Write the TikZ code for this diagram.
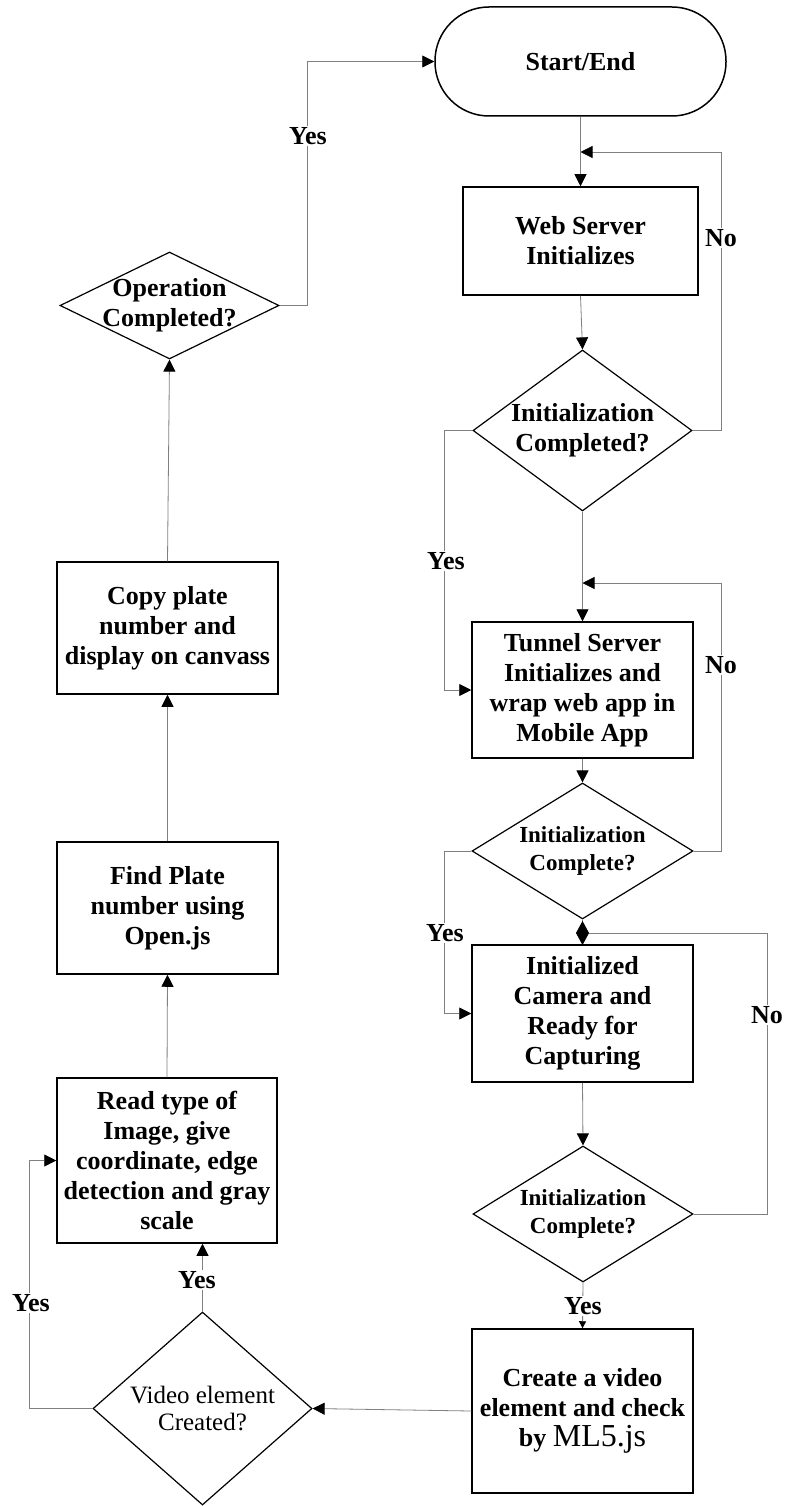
\documentclass[tikz,border=0pt]{standalone}
\usepackage{fontspec}
\setmainfont{Liberation Serif}
\usetikzlibrary{arrows.meta,shapes.geometric}
\begin{document}
\begin{tikzpicture}[x=1pt,y=-1pt,
  conn/.style={draw=gray, line width=0.8pt, -{Triangle[length=12pt,width=12pt,color=black]}},
  smallconn/.style={draw=gray, line width=0.8pt, -{Triangle[length=7pt,width=7pt,color=black]}},
  plain/.style={draw=gray, line width=0.8pt},
  box/.style={draw, line width=1.5pt, inner sep=0pt, align=center, font=\bfseries\fontsize{26}{30}\selectfont},
  dia/.style={draw, shape=diamond, line width=1.2pt, inner sep=0pt},
  dtxt/.style={align=center, inner sep=0pt, font=\bfseries\fontsize{26}{30}\selectfont},
  dtxtsmall/.style={align=center, inner sep=0pt, font=\bfseries\fontsize{23}{28}\selectfont},
  dtxtreg/.style={align=center, inner sep=0pt, font=\fontsize{25}{27}\selectfont},
  lbl/.style={fill=white, inner sep=1pt, font=\bfseries\fontsize{26}{28}\selectfont}]
\useasboundingbox[fill=white] (0,0) rectangle (785,1506);

% nodes
\node[box, rounded corners=54pt, minimum width=291pt, minimum height=109pt] (start) at (580.5,61.5) {Start/End};
\node[box, minimum width=235pt, minimum height=108pt] (web) at (580.5,241) {Web Server\\Initializes};
\node[dia, minimum width=219pt, minimum height=161pt] (d1) at (582.5,430.5) {};
\node[dtxt] (d1t) at (d1) {Initialization\\Completed?};
\node[box, minimum width=221pt, minimum height=136pt] (tunnel) at (582.5,690) {Tunnel Server\\Initializes and\\wrap web app in\\Mobile App};
\node[dia, minimum width=221pt, minimum height=136pt] (d2) at (582.5,851) {};
\node[dtxtsmall] (d2t) at (d2) {Initialization\\Complete?};
\node[box, minimum width=221pt, minimum height=137pt] (camera) at (582.5,1013.5) {Initialized\\Camera and\\Ready for\\Capturing};
\node[dia, minimum width=220pt, minimum height=136pt] (d3) at (583,1214) {};
\node[dtxtsmall] (d3t) at (d3) {Initialization\\Complete?};
\node[box, minimum width=221pt, minimum height=164pt] (create) at (582.5,1411) {Create a video\\element and check\\by {\mdseries\fontsize{32}{32}\selectfont ML5.js}};
\node[dia, minimum width=219pt, minimum height=193pt] (d4) at (202.5,1408.5) {};
\node[dtxtreg] (d4t) at (d4) {Video element\\Created?};
\node[box, minimum width=220pt, minimum height=165pt] (read) at (167,1160.5) {Read type of\\Image, give\\coordinate, edge\\detection and gray\\scale};
\node[box, minimum width=221pt, minimum height=132pt] (find) at (167.5,908) {Find Plate\\number using\\Open.js};
\node[box, minimum width=221pt, minimum height=132pt] (copy) at (167.5,628) {Copy plate\\number and\\display on canvass};
\node[dia, minimum width=219pt, minimum height=107pt] (dop) at (169.5,305.5) {};
\node[dtxt] (dopt) at (dop) {Operation\\Completed?};

% junction points
\coordinate (j1) at (580.5,152);
\coordinate (j2) at (582.5,583);
\coordinate (j3) at (576,933);

% connectors
\draw[conn] (start.south) -- (web.north);
\draw[conn] (d1.east) -- ++(28.5,0) |- (j1);
\draw[conn] (web.south) -- (d1.north);
\draw[conn] (d1.west) -- ++(-28,0) |- (tunnel.west);
\draw[conn] (d1.south) -- (tunnel.north);
\draw[conn] (d2.east) -- ++(28,0) |- (j2);
\draw[conn] (tunnel.south) -- (d2.north);
\draw[conn] (d2.west) -- ++(-27,0) |- (camera.west);
\draw[plain] (d2.south) -- (camera.north);
\draw[draw=gray, line width=0.8pt, -{Diamond[length=13pt,width=24pt,color=black]}] (d3.east) -- ++(74,0) |- (j3);
\draw[conn] (camera.south) -- (d3.north);
\draw[smallconn] (d3.south) -- (create.north);
\draw[conn] (create.west) -- (d4.east);
\draw[conn] (d4.north) -- (d4.north |- read.south);
\draw[conn] (d4.west) -- ++(-63,0) |- (read.west);
\draw[conn] (read.north) -- (find.south);
\draw[conn] (find.north) -- (copy.south);
\draw[conn] (copy.north) -- (dop.south);
\draw[conn] (dop.east) -- ++(28,0) |- (start.west);

% labels
\node[lbl] (y1) at (308,136) {Yes};
\node[lbl] (n1) at (721,238) {No};
\node[lbl] (y2) at (446,561) {Yes};
\node[lbl] (n2) at (721,665) {No};
\node[lbl] (y3) at (445,933) {Yes};
\node[lbl] (n3) at (767,1015) {No};
\node[lbl] (y4) at (583,1306) {Yes};
\node[lbl] (y5) at (197,1280) {Yes};
\node[lbl] (y6) at (31,1303) {Yes};
\end{tikzpicture}
\end{document}
